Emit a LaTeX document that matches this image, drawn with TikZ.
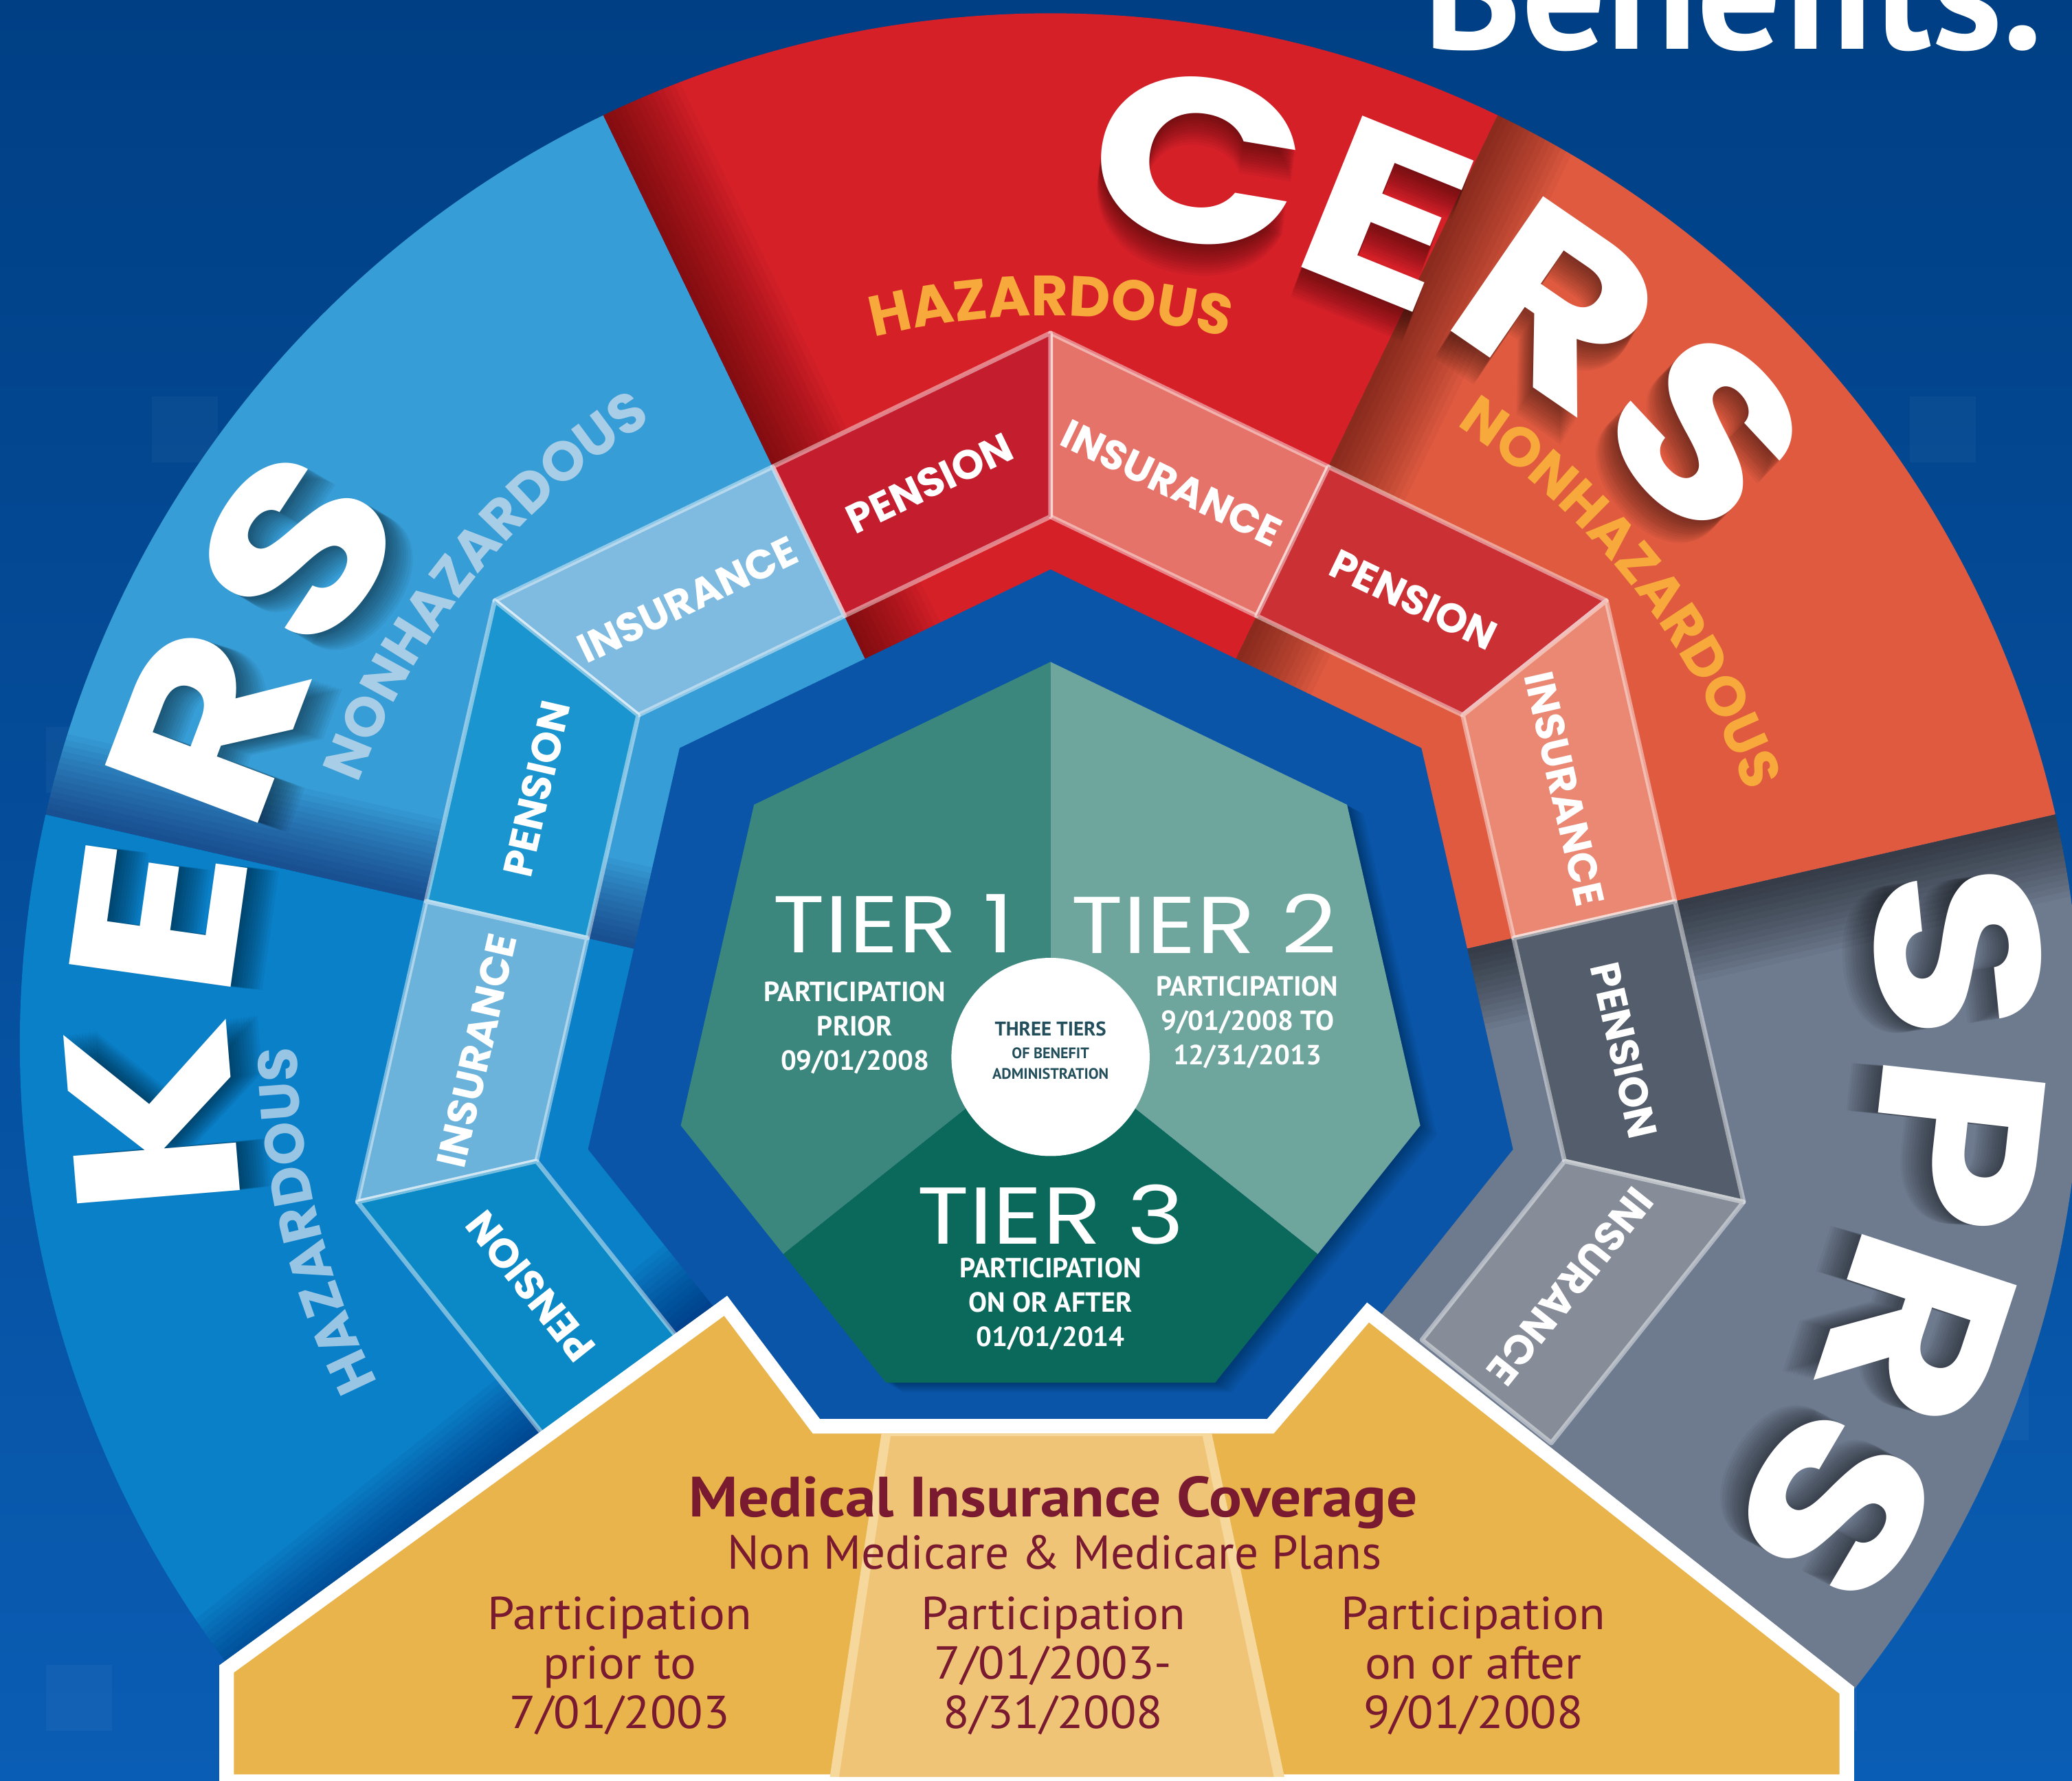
\documentclass[tikz,border=0pt]{standalone}
\usepackage{fontspec}
\usetikzlibrary{decorations.text,calc}
\newfontfamily\popfont{Poppins}
\newfontfamily\ptfont{PT Sans}

\definecolor{bgtop}{HTML}{003F84}
\definecolor{bgbot}{HTML}{0A5DB4}
\definecolor{innerblue}{HTML}{0A55A8}
\definecolor{kersnh}{HTML}{379DD6}
\definecolor{kersh}{HTML}{0A80C8}
\definecolor{cersh}{HTML}{D62028}
\definecolor{cersnh}{HTML}{E05A40}
\definecolor{sprs}{HTML}{6E7B8F}
\definecolor{cershpen}{HTML}{C41D2E}
\definecolor{cershins}{HTML}{E6736A}
\definecolor{cersnhpen}{HTML}{CB3035}
\definecolor{cersnhins}{HTML}{EA8873}
\definecolor{kersnhins}{HTML}{7FBBE0}
\definecolor{kersnhpen}{HTML}{1A95CF}
\definecolor{kershins}{HTML}{6CB3DC}
\definecolor{kershpen}{HTML}{0A89C6}
\definecolor{sprspen}{HTML}{545D6B}
\definecolor{sprsins}{HTML}{868D99}
\definecolor{tierone}{HTML}{3B877D}
\definecolor{tiertwo}{HTML}{6EA69E}
\definecolor{tierthree}{HTML}{0B695C}
\definecolor{hazorange}{HTML}{F7A93B}
\definecolor{kerstext}{HTML}{A8CDE6}
\definecolor{maroon}{HTML}{7A1A30}
\definecolor{circtext}{HTML}{234E5C}
\definecolor{medyellow}{HTML}{E9B44C}
\definecolor{medlight}{HTML}{F0C476}
\definecolor{medpale}{HTML}{F6D79C}

\tikzset{
  bigtext/.style={text=white, font=\popfont\bfseries\fontsize{176}{176}\selectfont, inner sep=0pt},
  bigshadow/.style={text=black, text opacity=0.045, font=\popfont\bfseries\fontsize{176}{176}\selectfont, inner sep=0pt},
  bandlabel/.style={text=white, font=\popfont\bfseries\fontsize{31}{31}\selectfont, inner sep=0pt},
  bandline/.style={draw=white, draw opacity=0.45, line width=3.5pt, line join=round},
  tiertitle/.style={text=white, font=\popfont\fontsize{61}{61}\selectfont, inner sep=0pt, xscale=1.2},
  tiersub/.style={text=white, font=\ptfont\bfseries\fontsize{21}{26}\selectfont, align=center, inner sep=0pt},
  circsmall/.style={text=circtext, font=\ptfont\bfseries\fontsize{11.5}{11.5}\selectfont, inner sep=0pt},
  medtext/.style={text=maroon, font=\ptfont\fontsize{35}{37.5}\selectfont, align=center, inner sep=0pt, xscale=1.05},
}

% sector of the outer disc between two angles
\newcommand\sector[3]{\fill[#3] (0,0) -- (#1:780) arc[start angle=#1, end angle=#2, radius=780] -- cycle;}
% soft shadow along one radial edge of a sector
\newcommand\edgeshade[5]{%
  \begin{scope}
    \clip (0,0) -- (#1:780) arc[start angle=#1, end angle=#2, radius=780] -- cycle;
    \begin{scope}[rotate=#3]
      \foreach \k in {1,...,14} \fill[#5, opacity=0.045] (0,0) rectangle (800,#4*\k*4.5);
    \end{scope}
  \end{scope}}
% one large letter set on the rim, with a soft shadow toward the centre
\newcommand\rimletter[4]{%
  \foreach \d in {2,4,...,24} \node[bigshadow, rotate=#1-90, xscale=1.2] (#4sh\d) at (#1-0.004*\d:#2-\d) {#3};
  \node[bigtext, rotate=#1-90, xscale=1.2] (#4) at (#1:#2) {#3};}
% one half-edge band of the heptagon ring
\newcommand\bandseg[5]{%
  \pgfmathsetmacro\vv{#1+(#2)*25.714}
  \pgfmathsetmacro\cc{#1+(#2)*13.54}
  \fill[#3] (#1:484.7) -- (\vv:538) -- (\vv:399) -- (#1:359.5) -- cycle;
  \draw[bandline] (#1:484.7) -- (\vv:538) -- (\vv:399) -- (#1:359.5) -- cycle;
  \node[bandlabel, rotate=#1-90] (#5) at (\cc:434.1) {#4};}

\begin{document}
\begin{tikzpicture}[x=1pt,y=1pt]
\useasboundingbox (-795,-558) rectangle (773,790);
\clip (-795,-558) rectangle (773,790);
\shade[top color=bgtop, bottom color=bgbot] (-795,-558) rectangle (773,790);

% faint background tiles
\foreach \px/\py in {-680/440,-760/190,-700/-330,-760/-520,650/440,690/-300,-330/640,560/-520}
  \fill[white, opacity=0.035] (\px,\py) rectangle ++(50,50);

% outer sectors
\sector{167.143}{226}{kersh}
\sector{115.714}{167.143}{kersnh}
\sector{64.286}{115.714}{cersh}
\sector{12.857}{64.286}{cersnh}
\sector{-45}{12.857}{sprs}

% shadows where one sector tucks under the next
\edgeshade{64.286}{115.714}{115.714}{-1}{black!80!red}
\edgeshade{12.857}{64.286}{64.286}{-1}{black!80!red}
\edgeshade{-45}{12.857}{12.857}{-1}{black}
\edgeshade{115.714}{167.143}{167.143}{-1}{black!70!blue}
\edgeshade{167.143}{226}{218.57}{-1}{black!70!blue}

% large system names along the rim
\rimletter{184.7}{682}{K}{kK}
\rimletter{172.0}{682}{E}{kE}
\rimletter{159.3}{682}{R}{kR}
\rimletter{146.6}{682}{S}{kS}
\rimletter{80.5}{678}{C}{cC}
\rimletter{68.0}{678}{E}{cE}
\rimletter{55.5}{678}{R}{cR}
\rimletter{43.0}{678}{S}{cS}
\rimletter{5.8}{690}{S}{sS}
\rimletter{-6.3}{690}{P}{sP}
\rimletter{-18.3}{690}{R}{sR}
\rimletter{-30.5}{690}{S}{sT}

% sector captions on arcs
\path[decorate, decoration={text along path, text align=center, text color=hazorange,
  text={|\popfont\bfseries\fontsize{43}{43}\selectfont|HAZARDOUS}}]
  (140:551) arc[start angle=140, end angle=40, radius=551];
\path[decorate, decoration={text along path, text align=center, text color=hazorange,
  text={|\popfont\bfseries\fontsize{42}{42}\selectfont|NONHAZARDOUS}}]
  (93.3:560) arc[start angle=93.3, end angle=-16.7, radius=560];
\path[decorate, decoration={text along path, text align=center, text color=kerstext,
  text={|\popfont\bfseries\fontsize{42}{42}\selectfont|NONHAZARDOUS}}]
  (196:560) arc[start angle=196, end angle=86, radius=560];
\path[decorate, decoration={text along path, text align=center, text color=kerstext!90!kersh,
  text={|\popfont\bfseries\fontsize{42}{42}\selectfont|HAZARDOUS}}]
  (243.5:570) arc[start angle=243.5, end angle=143.5, radius=570];

% inner field
\fill[innerblue] (90:359) -- (141.43:359) -- (192.86:359) -- (244.29:359) -- (295.71:359) -- (347.14:359) -- (38.57:359) -- cycle;

% pension / insurance ring
\bandseg{64.286}{1}{cershins}{INSURANCE}{b1}
\bandseg{115.714}{-1}{cershpen}{PENSION}{b2}
\bandseg{115.714}{1}{kersnhins}{INSURANCE}{b3}
\bandseg{167.143}{-1}{kersnhpen}{PENSION}{b4}
\bandseg{167.143}{1}{kershins}{INSURANCE}{b5}
\bandseg{218.571}{-1}{kershpen}{PENSION}{b6}
\bandseg{64.286}{-1}{cersnhpen}{PENSION}{b7}
\bandseg{12.857}{1}{cersnhins}{INSURANCE}{b8}
\bandseg{12.857}{-1}{sprspen}{PENSION}{b9}
\bandseg{-38.571}{1}{sprsins}{INSURANCE}{b10}

% tier heptagon
\begin{scope}[shift={(0,2)}]
  \foreach \d in {2,4,...,18}
    \fill[black, opacity=0.035, shift={(\d*0.7,-\d*0.4)}] (90:287) -- (141.43:287) -- (192.86:287) -- (244.29:287) -- (295.71:287) -- (347.14:287) -- (38.57:287) -- cycle;
  \fill[tierone] (0,0) -- (90:287) -- (141.43:287) -- (192.86:287) -- (218.57:258.6) -- cycle;
  \fill[tiertwo] (0,0) -- (90:287) -- (38.57:287) -- (-12.86:287) -- (-38.57:258.6) -- cycle;
  \fill[tierthree] (0,0) -- (218.57:258.6) -- (244.29:287) -- (295.71:287) -- (-38.57:258.6) -- cycle;
\end{scope}
\fill[white] (0,-10) circle[radius=75];

\node[tiertitle] (t1) at (-119,91) {TIER 1};
\node[tiertitle] (t2) at (116,91) {TIER 2};
\node[tiertitle] (t3) at (0,-129) {TIER 3};
\node[tiersub] (t1s) at (-148,12) {PARTICIPATION\\PRIOR\\09/01/2008};
\node[tiersub] (t2s) at (149,16) {PARTICIPATION\\9/01/2008 TO\\12/31/2013};
\node[tiersub] (t3s) at (0,-197) {PARTICIPATION\\ON OR AFTER\\01/01/2014};
\node[text=circtext, font=\ptfont\bfseries\fontsize{15}{15}\selectfont, inner sep=0pt] (three) at (0,11) {THREE TIERS};
\node[circsmall] (ofb) at (0,-7) {OF BENEFIT};
\node[circsmall] (adm) at (0,-23) {ADMINISTRATION};

% medical insurance block
\draw[white, line width=22pt, line join=miter, fill=medyellow]
  (-618,-476) -- (-247,-206) -- (-180,-295) -- (169,-295) -- (241,-211) -- (597,-492) -- (597,-553) -- (-618,-553) -- cycle;
\fill[medyellow]
  (-618,-476) -- (-247,-206) -- (-180,-295) -- (169,-295) -- (241,-211) -- (597,-492) -- (597,-553) -- (-618,-553) -- cycle;
\fill[medpale] (-128,-295) -- (122,-295) -- (177,-555) -- (-167,-555) -- cycle;
\fill[medlight] (-121,-297) -- (115,-297) -- (169,-555) -- (-160,-555) -- cycle;

\node[text=maroon, font=\ptfont\bfseries\fontsize{43}{43}\selectfont, inner sep=0pt, xscale=1.08] (mic) at (2,-347) {Medical Insurance Coverage};
\node[text=maroon, font=\ptfont\fontsize{36}{36}\selectfont, inner sep=0pt] (plans) at (3,-385) {Non Medicare \& Medicare Plans};
\node[medtext] (c1) at (-326,-471) {Participation\\prior to\\7/01/2003};
\node[medtext] (c2) at (2,-471) {Participation\\7/01/2003-\\8/31/2008};
\node[medtext] (c3) at (320,-471) {Participation\\on or after\\9/01/2008};

% page title, cut by the top edge
\node[anchor=base west, text=white, font=\ptfont\bfseries\fontsize{126}{126}\selectfont, inner sep=0pt] (title) at (282,753) {Benefits.};
\end{tikzpicture}
\end{document}
